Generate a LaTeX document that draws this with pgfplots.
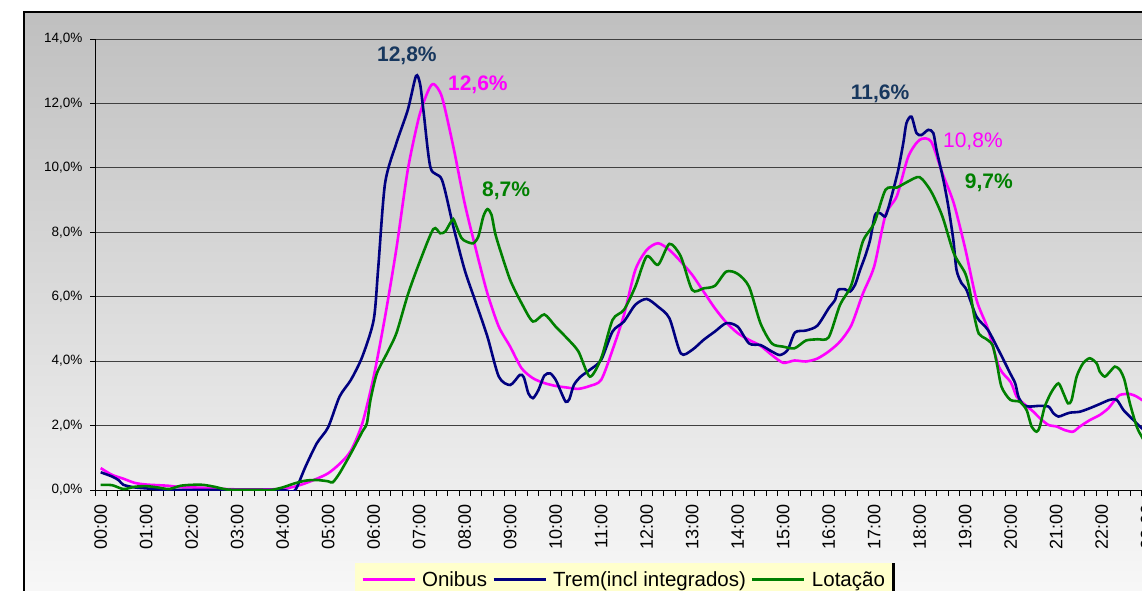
\documentclass[border=0pt]{standalone}
\usepackage{fontspec}
\setmainfont{Liberation Sans}
\usepackage{pgfplots}
\pgfplotsset{compat=1.18}
\definecolor{onib}{RGB}{255,0,255}
\definecolor{trem}{RGB}{0,0,128}
\definecolor{lot}{RGB}{0,128,0}
\definecolor{lblblue}{RGB}{23,55,94}
\definecolor{legfill}{RGB}{255,255,204}
\begin{document}
\begin{tikzpicture}
\path[use as bounding box] (0pt,0pt) rectangle (1142pt,590pt);
\shade[top color=black!25, bottom color=black!3] (24pt,0pt) rectangle (1200pt,578pt);
\draw[line width=1.5pt] (24pt,-10pt) -- (24pt,578pt) -- (1200pt,578pt);
\begin{axis}[
  at={(95pt,100pt)}, anchor=south west,
  scale only axis, width=1092pt, height=451pt,
  xmin=-0.125, xmax=23.875, ymin=0, ymax=14,
  axis x line*=bottom, axis y line*=left,
  axis line style={black, line width=1pt},
  tick align=outside,
  major tick length=5pt, minor tick length=6pt,
  ytick={0,2,...,14},
  yticklabels={{0,0\%},{2,0\%},{4,0\%},{6,0\%},{8,0\%},{10,0\%},{12,0\%},{14,0\%}},
  yticklabel style={font=\fontsize{13.5}{13.5}\selectfont, text=black},
  yticklabel shift=4pt,
  ytick style={black, line width=0.8pt},
  ymajorgrids, grid style={black!75, line width=0.9pt},
  xtick={0,...,23},
  xticklabels={00:00,01:00,02:00,03:00,04:00,05:00,06:00,07:00,08:00,09:00,10:00,11:00,12:00,13:00,14:00,15:00,16:00,17:00,18:00,19:00,20:00,21:00,22:00,23:00},
  xticklabel style={rotate=90, anchor=east, font=\fontsize{18}{18}\selectfont, text=black},
  xticklabel shift=6pt,
  major x tick style={draw=none},
  minor xtick={-0.125,0.125,...,23.9},
  minor x tick style={black, line width=0.8pt},
  legend style={at={(rel axis cs:0.238,-0.162)}, anchor=north west, legend columns=3,
    fill=legfill, draw=none, font=\fontsize{20.5}{24}\selectfont,
    inner xsep=6pt, inner ysep=6pt, name=lgd,
    /tikz/every even column/.append style={column sep=3pt},
    /tikz/every odd column/.append style={column sep=4pt}},
  legend image code/.code={\draw[#1, line width=3pt] (0pt,0pt) -- (52pt,0pt);},
  every axis plot/.append style={line width=2.6pt, smooth, tension=0.45},
]
\addplot[onib] coordinates {
(0,0.68) (0.25,0.47) (0.5,0.35) (0.75,0.22) (1,0.17) (1.25,0.15) (1.5,0.13) (1.75,0.09)
(2,0.08) (2.25,0.07) (2.5,0.05) (2.75,0.03) (3,0.02) (3.25,0.02) (3.5,0.02) (3.75,0.02)
(4,0.04) (4.25,0.1) (4.5,0.21) (4.75,0.35) (5,0.52) (5.25,0.81) (5.5,1.22) (5.75,2.07)
(6,3.52) (6.25,5.38) (6.5,7.5) (6.75,9.94) (7,11.6) (7.2,12.4) (7.32,12.6) (7.5,12.2)
(7.75,10.66) (8,8.9) (8.25,7.45) (8.5,6.1) (8.75,5.07) (9,4.45) (9.25,3.78) (9.5,3.47)
(9.75,3.32) (10,3.23) (10.25,3.18) (10.5,3.14) (10.75,3.23) (11,3.42) (11.25,4.35) (11.5,5.43)
(11.75,6.83) (12,7.45) (12.25,7.66) (12.5,7.45) (12.75,7.09) (13,6.68) (13.25,6.16) (13.5,5.64)
(13.75,5.2) (14,4.87) (14.25,4.66) (14.5,4.48) (14.75,4.19) (15,3.95) (15.25,4.02) (15.5,3.99)
(15.75,4.08) (16,4.3) (16.25,4.61) (16.5,5.12) (16.75,6.09) (17,6.94) (17.25,8.54) (17.5,9.13)
(17.75,10.35) (18,10.87) (18.25,10.82) (18.5,9.83) (18.75,8.9) (19,7.5) (19.25,5.9) (19.5,5.0)
(19.75,3.8) (20,3.35) (20.13,2.9) (20.28,2.69) (20.5,2.43) (20.64,2.23) (20.83,2.02) (21.01,1.97)
(21.19,1.86) (21.37,1.81) (21.52,1.97) (21.74,2.17) (21.96,2.33) (22.15,2.54) (22.26,2.74) (22.4,2.95)
(22.62,2.98) (22.77,2.9) (22.88,2.8) (23,2.7) (23.25,2.5)
};
\addlegendentry{Onibus}
\addplot[trem] coordinates {
(0,0.55) (0.25,0.42) (0.4,0.3) (0.5,0.16) (0.75,0.08) (1,0.05) (1.25,0.02) (1.5,0.0)
(2,0.0) (2.5,0.0) (3,0.0) (3.5,0.0) (4,0.0) (4.2,-0.05) (4.3,0.05) (4.5,0.72)
(4.75,1.45) (5,1.95) (5.25,2.9) (5.5,3.42) (5.75,4.14) (6,5.28) (6.1,6.9) (6.25,9.52)
(6.5,10.77) (6.75,11.8) (6.93,12.85) (7.02,12.6) (7.1,11.7) (7.25,10.0) (7.5,9.63) (7.75,8.18)
(8,6.83) (8.25,5.8) (8.5,4.76) (8.75,3.52) (9,3.26) (9.21,3.57) (9.3,3.5) (9.4,3.0)
(9.5,2.85) (9.62,3.1) (9.75,3.55) (9.88,3.62) (10,3.42) (10.1,3.1) (10.22,2.74) (10.3,2.82)
(10.4,3.26) (10.55,3.52) (10.75,3.73) (11,4.04) (11.25,4.92) (11.5,5.23) (11.75,5.75) (12,5.93)
(12.25,5.69) (12.5,5.33) (12.75,4.24) (13,4.35) (13.25,4.66) (13.5,4.92) (13.75,5.18) (14,5.07)
(14.25,4.55) (14.5,4.5) (14.75,4.3) (14.93,4.19) (15.1,4.35) (15.26,4.89) (15.5,4.95) (15.75,5.1)
(16,5.64) (16.14,5.9) (16.21,6.21) (16.36,6.23) (16.47,6.16) (16.58,6.37) (16.69,6.83) (16.8,7.25)
(16.91,7.76) (17.02,8.54) (17.13,8.59) (17.24,8.49) (17.31,8.75) (17.42,9.32) (17.53,9.94) (17.64,10.77)
(17.71,11.39) (17.82,11.59) (17.93,11.08) (18.04,11.02) (18.19,11.18) (18.3,11.08) (18.37,10.56) (18.52,9.63)
(18.63,8.8) (18.74,7.76) (18.81,6.83) (18.92,6.42) (19.03,6.21) (19.25,5.38) (19.5,4.97) (19.75,4.3)
(19.99,3.62) (20.1,3.31) (20.17,2.9) (20.28,2.64) (20.42,2.59) (20.6,2.61) (20.83,2.59) (20.94,2.38)
(21.05,2.28) (21.16,2.33) (21.3,2.4) (21.52,2.43) (21.74,2.54) (21.96,2.67) (22.18,2.8) (22.33,2.8)
(22.48,2.48) (22.62,2.28) (22.77,2.07) (22.88,1.92) (23,1.8) (23.25,1.6)
};
\addlegendentry{Trem(incl integrados)}
\addplot[lot] coordinates {
(0,0.16) (0.25,0.15) (0.5,0.03) (0.75,0.1) (1,0.12) (1.25,0.08) (1.5,0.03) (1.75,0.13)
(2,0.16) (2.25,0.16) (2.5,0.1) (2.75,0.02) (3,0.0) (3.5,0.0) (3.75,0.0) (4,0.08)
(4.25,0.2) (4.5,0.29) (4.75,0.31) (5,0.27) (5.1,0.24) (5.25,0.52) (5.5,1.14) (5.75,1.81)
(5.85,2.07) (5.93,2.8) (6.07,3.62) (6.29,4.24) (6.5,4.87) (6.75,6.06) (7,7.04) (7.31,8.1)
(7.46,7.97) (7.57,8.02) (7.68,8.28) (7.75,8.41) (7.82,8.18) (7.93,7.82) (8.04,7.71) (8.19,7.66)
(8.3,7.87) (8.41,8.49) (8.5,8.72) (8.59,8.54) (8.67,7.97) (8.78,7.45) (9,6.52) (9.25,5.8)
(9.5,5.23) (9.75,5.45) (10,5.07) (10.25,4.71) (10.5,4.3) (10.75,3.52) (11,4.09) (11.25,5.28)
(11.5,5.59) (11.75,6.31) (12,7.25) (12.25,6.99) (12.5,7.64) (12.75,7.25) (13,6.21) (13.25,6.26)
(13.5,6.34) (13.75,6.78) (14,6.71) (14.25,6.31) (14.5,5.18) (14.75,4.55) (15,4.45) (15.25,4.4)
(15.5,4.64) (15.75,4.68) (16,4.74) (16.25,5.75) (16.5,6.37) (16.75,7.71) (17,8.28) (17.25,9.32)
(17.5,9.39) (17.75,9.58) (18,9.71) (18.25,9.27) (18.5,8.49) (18.75,7.35) (19,6.73) (19.1,6.2)
(19.2,5.4) (19.3,4.85) (19.45,4.7) (19.6,4.5) (19.7,3.9) (19.8,3.2) (19.99,2.8) (20.2,2.74)
(20.35,2.48) (20.46,1.97) (20.57,1.81) (20.64,1.97) (20.75,2.59) (20.9,3.05) (21.05,3.31) (21.16,3.0)
(21.26,2.69) (21.34,2.8) (21.45,3.52) (21.59,3.93) (21.74,4.09) (21.89,3.93) (21.96,3.67) (22.07,3.52)
(22.18,3.67) (22.29,3.83) (22.4,3.73) (22.5,3.42) (22.62,2.69) (22.77,1.97) (22.88,1.66) (23,1.4)
(23.25,1.2)
};
\addlegendentry{Lotação}
\node[text=lblblue, font=\bfseries\fontsize{21}{24}\selectfont] at (axis cs:6.73,13.48) {12,8\%};
\node[text=onib, font=\bfseries\fontsize{21}{24}\selectfont] at (axis cs:8.29,12.58) {12,6\%};
\node[text=lot, font=\bfseries\fontsize{21}{24}\selectfont] at (axis cs:8.91,9.29) {8,7\%};
\node[text=lblblue, font=\bfseries\fontsize{21}{24}\selectfont] at (axis cs:17.13,12.3) {11,6\%};
\node[text=onib, font=\fontsize{21}{24}\selectfont] at (axis cs:19.17,10.81) {10,8\%};
\node[text=lot, font=\bfseries\fontsize{21}{24}\selectfont] at (axis cs:19.52,9.53) {9,7\%};
\end{axis}
\draw[line width=3pt] (lgd.north east) -- (lgd.south east);
\end{tikzpicture}
\end{document}
